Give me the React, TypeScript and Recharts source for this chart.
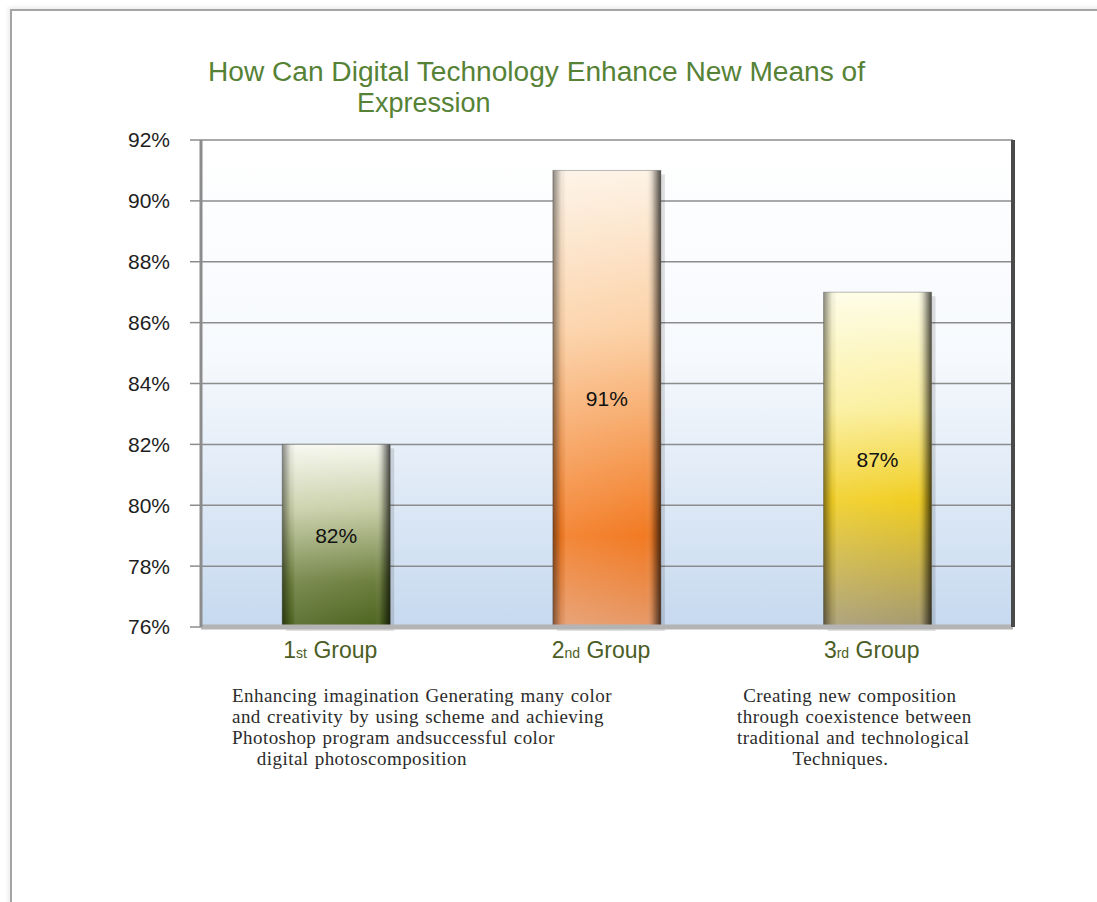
import { Bar, BarChart, CartesianGrid, LabelList, XAxis, YAxis } from "recharts";

const groups = ["1st", "2nd", "3rd"];
const percents = [82, 91, 87];
const yTicks = [76, 78, 80, 82, 84, 86, 88, 90, 92];
const titleLines = ["How Can Digital Technology Enhance New Means of", "Expression"];
const noteLeft = [
  "Enhancing imagination Generating many color",
  "and creativity by using scheme and achieving",
  "Photoshop program andsuccessful color",
  "    digital photoscomposition",
];
const noteRight = [
  " Creating new composition",
  "through coexistence between",
  "traditional and technological",
  "         Techniques.",
];

const data = groups.map((g, i) => ({ name: g, value: percents[i] }));

// gradient stops for each bar, top -> bottom
const barStops = [
  [["0%", "#f7f8ef"], ["35%", "#c9cfa8"], ["75%", "#6d803f"], ["100%", "#4d6420"]],
  [["0%", "#fdf3e6"], ["35%", "#fcd1a6"], ["80%", "#f27a22"], ["100%", "#e69a6a"]],
  [["0%", "#fefde6"], ["35%", "#fbef9c"], ["62%", "#f1ce22"], ["100%", "#a59a72"]],
];

const serif = "'Liberation Serif', 'Times New Roman', serif";
const sans = "'Liberation Sans', Arial, sans-serif";

const noteStyle = {
  position: "absolute" as const,
  top: 685,
  fontFamily: serif,
  fontSize: 19,
  lineHeight: "21px",
  letterSpacing: "0.45px",
  wordSpacing: "1px",
  color: "#2b2b2b",
  whiteSpace: "pre" as const,
};

function BevelBar(props: any) {
  const { x, y, width, height, index } = props;
  if (!height || height <= 0) return null;
  return (
    <g>
      <rect x={x + 4} y={y + 4} width={width} height={height} fill="rgba(0,0,0,0.12)" />
      <rect x={x} y={y} width={width} height={height} fill={`url(#bar${index})`} />
      <rect x={x} y={y} width={width} height={height} fill="url(#barEdge)" />
      <rect x={x} y={y} width={width} height={height} fill="none" stroke="rgba(60,60,60,0.35)" strokeWidth={1} />
    </g>
  );
}

function GroupTick(props: any) {
  const { x, y, payload } = props;
  const label: string = payload.value;
  const num = label.slice(0, 1);
  const suf = label.slice(1);
  return (
    <text x={x - 6} y={y + 23} textAnchor="middle" fill="#4b5d25" fontFamily={sans}>
      <tspan fontSize={23}>{num}</tspan>
      <tspan fontSize={14}>{suf}</tspan>
      <tspan fontSize={23}> Group</tspan>
    </text>
  );
}

export default function App() {
  return (
    <div style={{ position: "absolute", left: 0, top: 0, width: 1097, height: 902, background: "#fff", overflow: "hidden" }}>
      <div
        style={{
          position: "absolute",
          left: 10,
          top: 9,
          width: 1200,
          height: 1000,
          borderLeft: "2px solid #a4a4a4",
          borderTop: "2px solid #a4a4a4",
          boxShadow: "-2px -2px 4px rgba(0,0,0,0.08)",
        }}
      />
      <svg width={1097} height={130} style={{ position: "absolute", left: 0, top: 0 }}>
        <text x={208} y={81} fontFamily={sans} fontSize={27} fill="#568236" textLength={657} lengthAdjust="spacingAndGlyphs">
          {titleLines[0]}
        </text>
        <text x={357} y={112} fontFamily={sans} fontSize={27} fill="#568236">
          {titleLines[1]}
        </text>
      </svg>
      <div style={{ position: "absolute", left: 0, top: 0 }}>
        <BarChart
          width={1097}
          height={902}
          data={data}
          margin={{ top: 140, right: 80, left: 121, bottom: 245 }}
          barCategoryGap="30%"
        >
          <defs>
            {barStops.map((stops, i) => (
              <linearGradient key={i} id={`bar${i}`} x1="0" y1="0" x2="0" y2="1">
                {stops.map(([o, c]) => (
                  <stop key={o} offset={o} stopColor={c} />
                ))}
              </linearGradient>
            ))}
            <linearGradient id="barEdge" x1="0" y1="0" x2="1" y2="0">
              <stop offset="0%" stopColor="#000" stopOpacity={0.45} />
              <stop offset="8%" stopColor="#000" stopOpacity={0.05} />
              <stop offset="12%" stopColor="#fff" stopOpacity={0.1} />
              <stop offset="86%" stopColor="#fff" stopOpacity={0} />
              <stop offset="92%" stopColor="#000" stopOpacity={0.15} />
              <stop offset="100%" stopColor="#000" stopOpacity={0.7} />
            </linearGradient>
            <linearGradient id="plotBg" x1="0" y1="0" x2="0" y2="1">
              <stop offset="0%" stopColor="#ffffff" />
              <stop offset="45%" stopColor="#f6f9fd" />
              <stop offset="100%" stopColor="#c6d9ef" />
            </linearGradient>
          </defs>
          <CartesianGrid vertical={false} stroke="#8c8c8c" strokeWidth={1.5} fill="url(#plotBg)" fillOpacity={1} />
          <XAxis
            dataKey="name"
            height={30}
            tick={<GroupTick />}
            tickLine={false}
            axisLine={{ stroke: "#b4b4b4", strokeWidth: 5 }}
          />
          <YAxis
            width={80}
            domain={[76, 92]}
            ticks={yTicks}
            interval={0}
            tickFormatter={(v: number) => `${v}%`}
            tickSize={11}
            tickMargin={20}
            tick={{ fill: "#1e1e1e", fontSize: 21, fontFamily: sans }}
            tickLine={{ stroke: "#8c8c8c", strokeWidth: 1.5 }}
            axisLine={{ stroke: "#8c8c8c", strokeWidth: 3 }}
          />
          <YAxis
            yAxisId="edge"
            orientation="right"
            width={4}
            domain={[76, 92]}
            ticks={yTicks}
            tick={false}
            tickLine={false}
            axisLine={{ stroke: "#4a4a4a", strokeWidth: 4 }}
          />
          <Bar dataKey="value" shape={<BevelBar />} isAnimationActive={false}>
            <LabelList
              dataKey="value"
              position="center"
              formatter={(v: any) => `${v}%`}
              fill="#111"
              fontSize={21}
              fontFamily={sans}
            />
          </Bar>
        </BarChart>
      </div>
      <div style={{ ...noteStyle, left: 232 }}>
        {noteLeft.map((l) => (
          <div key={l}>{l}</div>
        ))}
      </div>
      <div style={{ ...noteStyle, left: 737 }}>
        {noteRight.map((l) => (
          <div key={l}>{l}</div>
        ))}
      </div>
    </div>
  );
}
